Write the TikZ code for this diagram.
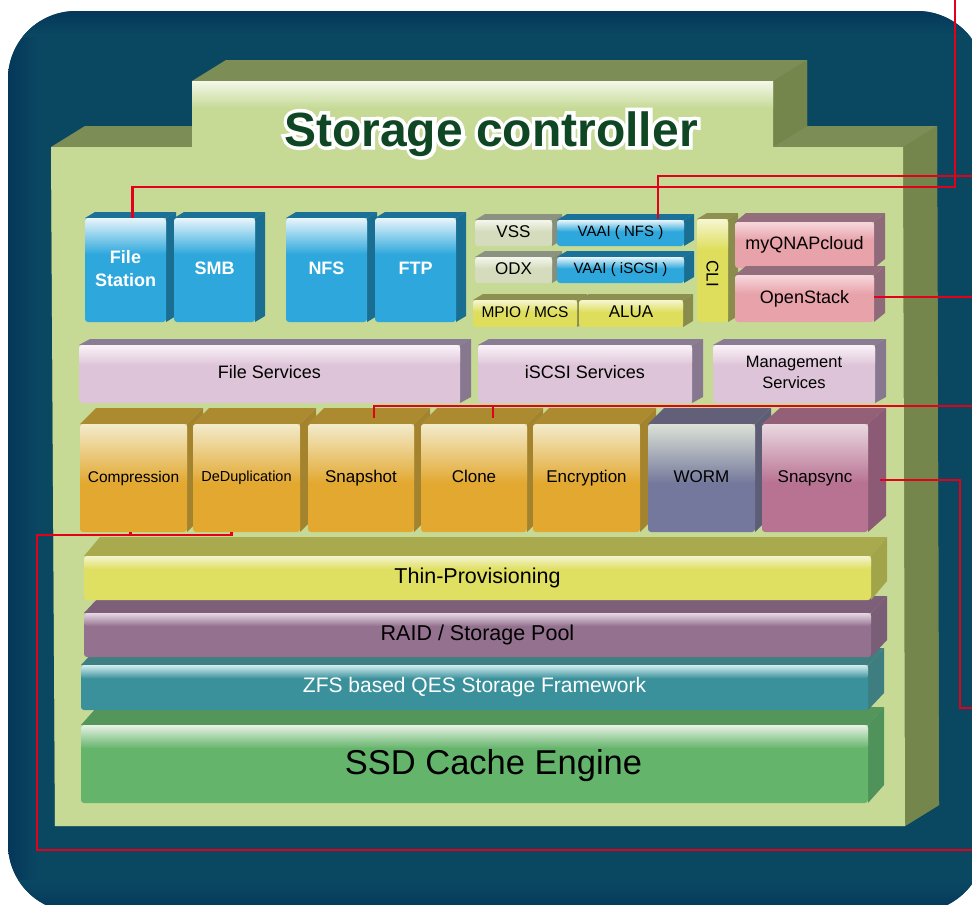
\documentclass[tikz,border=0pt]{standalone}
\usepackage{fontspec}
\usepackage{graphicx}
\setmainfont{Liberation Sans}
\newfontfamily\glowfont[FakeBold=15]{Liberation Sans Bold}
\usetikzlibrary{calc}
\definecolor{bgdark}{HTML}{0A4862}
\definecolor{bgedge}{HTML}{05375A}
\definecolor{lg}{HTML}{C6DA96}
\definecolor{olive}{HTML}{7C8D56}
\definecolor{oliveside}{HTML}{74864B}
\definecolor{redc}{HTML}{E2001A}
\definecolor{titlegreen}{HTML}{0F4623}
% families
\definecolor{bluefront}{HTML}{2EA8DC}\definecolor{bluelight}{HTML}{E8F5FB}\definecolor{bluetop}{HTML}{1C7199}\definecolor{blueside}{HTML}{1A6E92}
\definecolor{grayfront}{HTML}{D5DCBE}\definecolor{graylight}{HTML}{F4F6EC}\definecolor{graytop}{HTML}{8C9282}\definecolor{grayside}{HTML}{878E7A}
\definecolor{yellowfront}{HTML}{DEDE5C}\definecolor{yellowlight}{HTML}{F6F6D2}\definecolor{yellowtop}{HTML}{8E9050}\definecolor{yellowside}{HTML}{8A8C4C}
\definecolor{pinkfront}{HTML}{E8A2AA}\definecolor{pinklight}{HTML}{F6D8DC}\definecolor{pinktop}{HTML}{946E7C}\definecolor{pinkside}{HTML}{8E6A7A}
\definecolor{lavfront}{HTML}{DEC4D8}\definecolor{lavlight}{HTML}{FBF3F9}\definecolor{lavtop}{HTML}{8B7C95}\definecolor{lavside}{HTML}{877890}
\definecolor{orangefront}{HTML}{E2A830}\definecolor{orangelight}{HTML}{F3EBCB}\definecolor{orangetop}{HTML}{AC8A30}\definecolor{orangeside}{HTML}{A4832E}
\definecolor{wormfront}{HTML}{74789C}\definecolor{wormlight}{HTML}{DCE2D6}\definecolor{wormtop}{HTML}{616078}\definecolor{wormside}{HTML}{5E5D76}
\definecolor{syncfront}{HTML}{B87292}\definecolor{synclight}{HTML}{EAD8E0}\definecolor{synctop}{HTML}{946078}\definecolor{syncside}{HTML}{8C5A74}
\definecolor{thinfront}{HTML}{DFDF62}\definecolor{thinlight}{HTML}{F4F4CF}\definecolor{thintop}{HTML}{A9AA4D}\definecolor{thinside}{HTML}{A2A449}
\definecolor{raidfront}{HTML}{94728F}\definecolor{raidlight}{HTML}{E6D8E4}\definecolor{raidtop}{HTML}{7E5F79}\definecolor{raidside}{HTML}{7A5D76}
\definecolor{zfsfront}{HTML}{3B919B}\definecolor{zfslight}{HTML}{D4EEF0}\definecolor{zfstop}{HTML}{3F7F82}\definecolor{zfsside}{HTML}{3E7E80}
\definecolor{ssdfront}{HTML}{64B46B}\definecolor{ssdlight}{HTML}{E6F2E4}\definecolor{ssdtop}{HTML}{53955A}\definecolor{ssdside}{HTML}{4F935A}
\tikzset{
  redline/.style={draw=redc, line width=2.6pt},
  lbl/.style={inner sep=0pt, align=center, text=black},
  titletext/.style={anchor=base, inner sep=0pt},
}
\newcommand\fsz[1]{\fontsize{#1}{#1}\selectfont}
\newcommand\wb{\color{white}\bfseries\fontsize{18}{21}\selectfont}
\def\gfrac{0.4}
% #1 name #2 x1 #3 y1 #4 x2 #5 y2 #6 dx #7 dy #8 family #9 text
\newcommand\blk[9]{%
  \fill[#8top] (#2,#3) -- ++(#6,-#7) -- ({#4+#6},{#3-#7}) -- (#4,#3) -- cycle;
  \fill[#8side] (#4,#3) -- ({#4+#6},{#3-#7}) -- ({#4+#6},{#5-#7}) -- (#4,#5) -- cycle;
  \fill[#8front, rounded corners=3pt] (#2,#3) rectangle (#4,#5);
  \shade[top color=#8light, bottom color=#8front, rounded corners=3pt] (#2,#3) rectangle (#4,{#3+\gfrac*(#5-#3)});
  \node[lbl, minimum width={(#4-#2)*1pt}, minimum height={(#5-#3)*1pt}] (#1) at ({(#2+#4)/2},{(#3+#5)/2}) {#9\vphantom{Ag}};
}
\begin{document}
\begin{tikzpicture}[x=1pt,y=-1pt]
\useasboundingbox (0,0) rectangle (972,905);
\clip (0,0) rectangle (972,905);
\fill[white] (0,0) rectangle (972,905);
% dark rounded background
\begin{scope}
\clip[rounded corners=68pt] (8,11) rectangle (985,912);
\fill[bgdark] (0,0) rectangle (990,912);
\shade[left color=bgedge, right color=bgdark] (8,0) rectangle (40,912);
\shade[top color=bgedge, bottom color=bgdark] (0,11) rectangle (990,36);
\shade[bottom color=bgedge, top color=bgdark] (0,880) rectangle (990,912);
\end{scope}
% main body extrusion
\fill[olive] (51,147) -- (85,126) -- (192,126) -- (192,81) -- (226,60) -- (807,60) -- (807,126) -- (937,126) -- (939,805) -- (905,826) -- (55,826) -- cycle;
\fill[oliveside] (903,147) -- (937,126) -- (939,805) -- (905,826) -- cycle;
\fill[oliveside] (773,81) -- (807,60) -- (807,126) -- (773,147) -- cycle;
% main body front
\fill[lg] (51,147) -- (192,147) -- (192,81) -- (773,81) -- (773,147) -- (903,147) -- (905,826) -- (55,826) -- cycle;
\shade[top color=white!80!lg, bottom color=lg] (192,81) rectangle (773,108);
% title (white outline under dark green text)
\node[titletext] (title) at (491,146) {\fontsize{48}{50}\selectfont\rlap{\glowfont\color{white}Storage controller}\bfseries\color{titlegreen}Storage controller};
% protocol boxes
\def\gfrac{0.35}
\blk{filestation}{85}{218}{166}{322}{10}{6}{blue}{\wb File\\[9pt]\wb Station}
\blk{smb}{174}{218}{255}{322}{10}{6}{blue}{\wb SMB}
\blk{nfs}{286}{218}{367}{322}{10}{6}{blue}{\wb NFS}
\blk{ftp}{375}{218}{456}{322}{10}{6}{blue}{\wb FTP}
\def\gfrac{0.45}
\blk{vss}{475}{220}{552}{246}{10}{6}{gray}{\fsz{17}VSS}
\blk{vaainfs}{557}{220}{684}{246}{10}{6}{blue}{\fsz{15}VAAI ( NFS )}
\blk{odx}{475}{257}{552}{283}{10}{6}{gray}{\fsz{17}ODX}
\blk{vaaiiscsi}{557}{257}{684}{283}{10}{6}{blue}{\fsz{15}VAAI ( iSCSI )}
\blk{mpio}{473}{300}{577}{327}{10}{6}{yellow}{\fsz{15.5}MPIO / MCS}
\blk{alua}{579}{300}{683}{327}{10}{6}{yellow}{\fsz{17}ALUA}
\def\gfrac{0.3}
\blk{cli}{697}{219}{728}{322}{10}{6}{yellow}{\rotatebox{-90}{\fsz{17}CLI}}
\def\gfrac{0.4}
\blk{myqnap}{735}{222}{874}{268}{11}{9}{pink}{\fsz{18}myQNAPcloud}
\blk{openstack}{735}{275}{874}{322}{11}{9}{pink}{\fsz{18}OpenStack}
% services
\def\gfrac{0.35}
\blk{fileservices}{79}{345}{460}{403}{11}{6}{lav}{\fsz{18}File Services}
\blk{iscsiservices}{478}{345}{692}{403}{11}{6}{lav}{\fsz{18}iSCSI Services}
\blk{mgmt}{713}{345}{875}{403}{11}{6}{lav}{\fontsize{16.5}{17}\selectfont Management\\[5pt]\fontsize{16.5}{17}\selectfont Services}
% features
\def\gfrac{0.55}
\blk{compression}{80}{424}{187}{532}{16}{16}{orange}{\fsz{15.5}Compression}
\blk{dedup}{193}{424}{300}{532}{16}{16}{orange}{\fsz{14.5}DeDuplication}
\blk{snapshot}{308}{424}{414}{532}{16}{16}{orange}{\fsz{17}Snapshot}
\blk{clone}{421}{424}{527}{532}{16}{16}{orange}{\fsz{17}Clone}
\blk{encryption}{533}{424}{640}{532}{16}{16}{orange}{\fsz{17}Encryption}
\blk{worm}{648}{424}{755}{532}{16}{16}{worm}{\fsz{17}WORM}
\blk{snapsync}{762}{424}{868}{532}{18}{16}{sync}{\fsz{17}Snapsync}
% layers (bottom first)
\def\gfrac{0.3}
\blk{ssd}{81}{725}{868}{803}{16}{18}{ssd}{\fsz{34.5}\hspace*{38pt}\raisebox{-4pt}{SSD Cache Engine}}
\blk{zfs}{81}{665}{868}{710}{16}{17}{zfs}{\color{white}\fsz{21}ZFS based QES Storage Framework}
\blk{raid}{84}{613}{871}{657}{16}{17}{raid}{\fsz{21.5}RAID / Storage Pool}
\blk{thin}{84}{556}{871}{600}{16}{19}{thin}{\fsz{21.5}Thin-Provisioning}
% red connectors
\coordinate (r1a) at (955,187);
\coordinate (r1b) at (955,-5);
\coordinate (r2) at (980,176);
\coordinate (r3) at (980,300);
\coordinate (r4) at (980,406);
\coordinate (r5a) at (960,708);
\coordinate (r5b) at (980,708);
\coordinate (r6a) at (37,535);
\coordinate (r6b) at (37,850);
\coordinate (r6c) at (980,850);
\draw[redline] ([xshift=7pt]filestation.north) |- (r1a) -- (r1b);
\draw[redline] ([xshift=37.5pt,yshift=1pt]vaainfs.north) |- (r2);
\draw[redline] ([yshift=1.5pt]openstack.east) -- ([yshift=1.5pt]openstack.east -| r3);
\draw[redline] ([xshift=13pt,yshift=6pt]snapshot.north) |- (r4);
\draw[redline] ([xshift=19pt,yshift=6pt]clone.north) -- ([xshift=19pt]clone.north |- r4);
\draw[redline] ([xshift=12pt,yshift=-2pt]snapsync.east) -| (r5a) -- (r5b);
\draw[redline] ([xshift=-15pt]dedup.south) |- (r6a) -- (r6b) -- (r6c);
\draw[redline] ([xshift=-3pt]compression.south) -- ([xshift=-3pt]compression.south |- r6a);
\end{tikzpicture}
\end{document}
